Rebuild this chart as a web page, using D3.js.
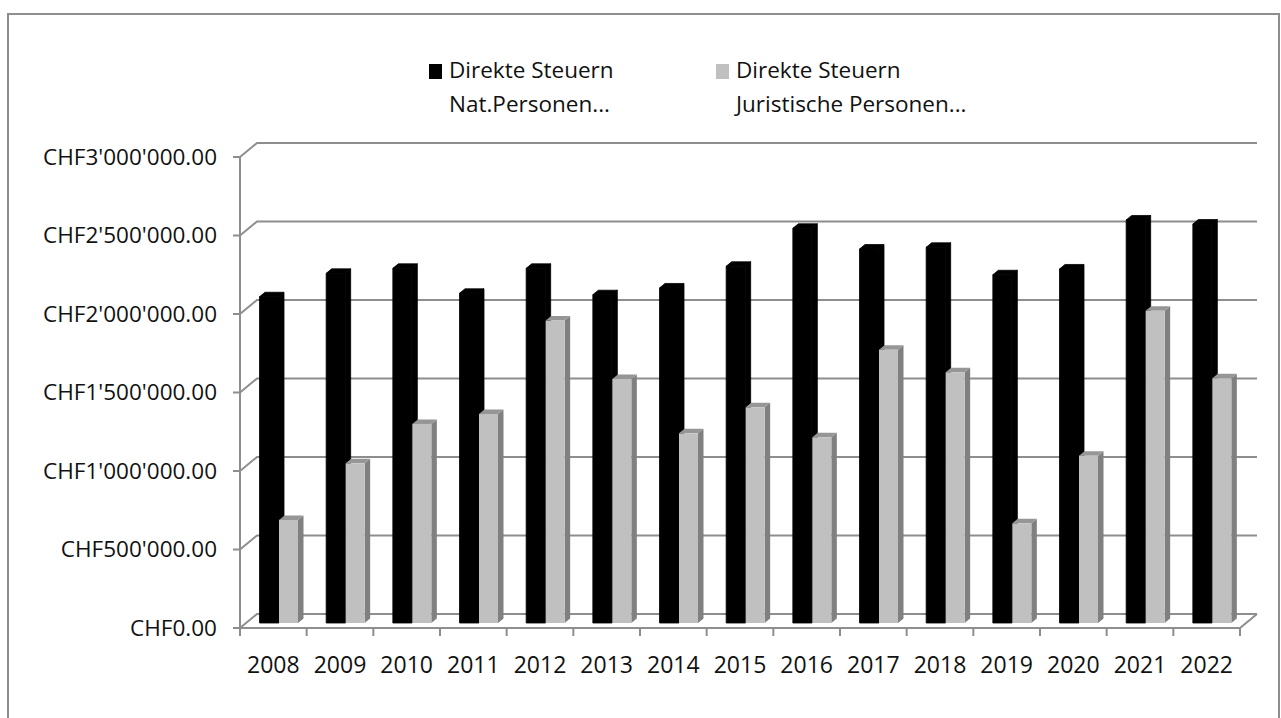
<!DOCTYPE html>
<html lang="de">
<head>
<meta charset="UTF-8">
<title>Direkte Steuern</title>
<script src="https://d3js.org/d3.v7.min.js"></script>
<style>
  body { margin: 0; background: #fff; }
  svg { display: block; }
  text { font-family: "Open Sans", sans-serif; fill: #111; }
</style>
</head>
<body>
<svg id="chart" width="1281" height="718"></svg>
<script>
const years = ["2008", "2009", "2010", "2011", "2012", "2013", "2014", "2015",
               "2016", "2017", "2018", "2019", "2020", "2021", "2022"];
const natPersonen = [2078000, 2227000, 2259000, 2100000, 2259000, 2091000, 2134000, 2272000,
                     2514000, 2382000, 2393000, 2218000, 2255000, 2567000, 2541000];
const jurPersonen = [656000, 1017000, 1268000, 1331000, 1926000, 1554000, 1208000, 1374000,
                     1183000, 1741000, 1597000, 635000, 1066000, 1989000, 1559000];
const seriesNames = [["Direkte Steuern", "Nat.Personen..."], ["Direkte Steuern", "Juristische Personen..."]];
const yTicks = [0, 500000, 1000000, 1500000, 2000000, 2500000, 3000000];

const svg = d3.select("#chart");
const gridColor = "#8e8e8e";

// frame
svg.append("rect").attr("x", 8).attr("y", 14).attr("width", 1271).attr("height", 720)
  .attr("fill", "none").attr("stroke", gridColor).attr("stroke-width", 2);

// geometry
const wallDx = 17, wallDy = -14;
const barDx = 5.5, barDy = -4.5;
const x = d3.scaleBand().domain(years).range([240, 1240]);
const sub = d3.scaleBand().domain([0, 1]).range([19.5, 58.5]);
const yWall = d3.scaleLinear().domain([0, 3000000]).range([628, 157]);
const yBar = d3.scaleLinear().domain([0, 3000000]).range([623, 152]);

const chf = d3.formatLocale({ decimal: ".", thousands: "'", grouping: [3], currency: ["CHF", ""] })
  .format("$,.2f");

// back wall gridlines
const grid = svg.append("g").attr("fill", "none").attr("stroke", gridColor).attr("stroke-width", 2);
yTicks.forEach(v => {
  const yf = yWall(v);
  grid.append("path")
    .attr("d", `M${x.range()[0]},${yf} L${x.range()[0] + wallDx},${yf + wallDy} L${x.range()[1] + wallDx},${yf + wallDy}`);
});
// floor front edge and right edge
const y0 = yWall(0);
grid.append("path")
  .attr("d", `M${x.range()[0]},${y0} L${x.range()[1]},${y0} L${x.range()[1] + wallDx},${y0 + wallDy}`);
// vertical axis
grid.append("line").attr("x1", 240).attr("x2", 240).attr("y1", yWall(3000000)).attr("y2", y0);

// y ticks + labels
yTicks.forEach(v => {
  grid.append("line").attr("x1", 233).attr("x2", 240).attr("y1", yWall(v)).attr("y2", yWall(v));
  svg.append("text").attr("x", 217).attr("y", yWall(v)).attr("dy", "0.35em")
    .attr("text-anchor", "end").attr("font-size", 22.5).text(chf(v));
});

// x ticks + labels
const bounds = years.map(d => x(d)).concat([x.range()[1]]);
bounds.forEach(bx => {
  grid.append("line").attr("x1", bx).attr("x2", bx).attr("y1", y0).attr("y2", y0 + 8);
});
years.forEach(d => {
  svg.append("text").attr("x", x(d) + x.bandwidth() / 2).attr("y", 665).attr("dy", "0.35em")
    .attr("text-anchor", "middle").attr("font-size", 23).text(d);
});

// 3D bars
const styles = [
  { front: "#000", side: "#000", top: "#000", edge: "#000" },
  { front: "#c0c0c0", side: "#808080", top: "#969696", edge: "none" }
];
const seriesVals = [natPersonen, jurPersonen];
const bars = svg.append("g");
years.forEach((yr, i) => {
  [0, 1].forEach(s => {
    const v = seriesVals[s][i];
    const bx = x(yr) + sub(s), w = sub.bandwidth() - 0.5;
    const yt = yBar(v), yb = yBar(0);
    const st = styles[s];
    const g = bars.append("g").attr("stroke", st.edge).attr("stroke-width", 0.8)
      .attr("stroke-linejoin", "round");
    g.append("path").attr("fill", st.side)
      .attr("d", `M${bx + w},${yt} L${bx + w + barDx},${yt + barDy} L${bx + w + barDx},${yb + barDy} L${bx + w},${yb}Z`);
    g.append("path").attr("fill", st.top)
      .attr("d", `M${bx},${yt} L${bx + barDx},${yt + barDy} L${bx + w + barDx},${yt + barDy} L${bx + w},${yt}Z`);
    g.append("rect").attr("x", bx).attr("y", yt).attr("width", w).attr("height", yb - yt)
      .attr("fill", st.front);
  });
});

// legend
const legendX = [429, 716];
seriesNames.forEach((lines, s) => {
  const lg = svg.append("g");
  lg.append("rect").attr("x", legendX[s]).attr("y", 64).attr("width", 13).attr("height", 15)
    .attr("fill", styles[s].front);
  lines.forEach((t, k) => {
    lg.append("text").attr("x", legendX[s] + 20).attr("y", 78 + k * 34)
      .attr("font-size", 22.5).text(t);
  });
});
</script>
</body>
</html>
